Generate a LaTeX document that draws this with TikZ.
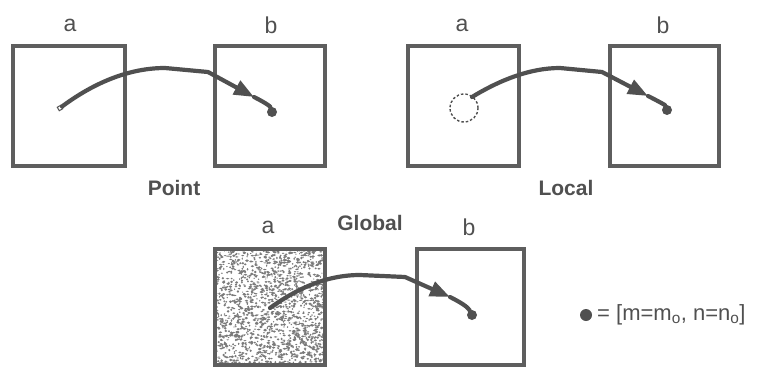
\documentclass[tikz,border=0pt]{standalone}
\usepackage{fontspec}
\setmainfont{Liberation Sans}
\usetikzlibrary{arrows.meta}
\definecolor{ink}{HTML}{505050}
\definecolor{boxc}{HTML}{5E5E5E}
\definecolor{speck}{HTML}{7A7A7A}
\begin{document}
\begin{tikzpicture}[x=1pt,y=-1pt,
  frame/.style={draw=boxc,line width=3.2pt,rectangle,inner sep=0pt},
  lab/.style={text=ink,font=\fontsize{23}{25}\selectfont,inner sep=0pt},
  title/.style={text=ink,font=\fontsize{21}{24}\selectfont\bfseries,inner sep=0pt},
  flow/.style={draw=ink,line width=4.2pt,line cap=round,line join=round},
  head/.style={-{Triangle[length=20pt,width=15pt]}},
  spot/.style={circle,fill=ink,inner sep=0pt,minimum size=10pt}]
\useasboundingbox (0,0) rectangle (766,367);
% ---------- Point ----------
\node[frame,minimum width=112pt,minimum height=120pt] (pa) at (69,106) {};
\node[frame,minimum width=110pt,minimum height=120pt] (pb) at (270,106) {};
\node[lab] (pal) at (70,25) {a};
\node[lab] (pbl) at (271,25) {b};
\node[title] (pt) at (174,188) {Point};
\coordinate (ps) at (60,108);
\node[spot] (pd) at (272,112) {};
\node[rectangle,draw=ink,line width=1pt,inner sep=0pt,minimum size=4pt,rotate=30] (pso) at (ps) {};
\coordinate (pk) at (208,72);
\coordinate (pm) at (254,97);
\draw[flow,head] (pso) .. controls (95,82) and (130,68) .. (165,68) -- (pk) -- (pm);
\draw[flow] (pm) .. controls (264,102) and (270,106) .. (pd);
% ---------- Local ----------
\node[frame,minimum width=111pt,minimum height=120pt] (la) at (463.5,106) {};
\node[frame,minimum width=109pt,minimum height=120pt] (lb) at (664.5,106) {};
\node[lab] (lal) at (462,25) {a};
\node[lab] (lbl) at (663,25) {b};
\node[title] (lt) at (566,188) {Local};
\node[circle,draw=ink,dashed,dash pattern=on 2.5pt off 2pt,line width=1.4pt,minimum size=28pt,inner sep=0pt] (lc) at (464,108) {};
\coordinate (ls) at (472,97);
\node[spot] (ld) at (667,110) {};
\coordinate (lk) at (602,72);
\coordinate (lm) at (648,96);
\draw[flow,head] (ls) .. controls (500,80) and (530,68) .. (560,68) -- (lk) -- (lm);
\draw[flow] (lm) .. controls (658,101) and (665,105) .. (ld);
% ---------- Global ----------
\begin{scope}
\clip (215,249) rectangle (325,365);
\pgfmathsetseed{11}
\foreach \i in {1,...,1700}{
  \fill[speck] ({270+55*rand},{307+58*rand}) ellipse ({0.6+1.4*rnd} and {0.5+0.9*rnd});
}
\end{scope}
\node[frame,minimum width=110pt,minimum height=116pt] (ga) at (270,307) {};
\node[frame,minimum width=107pt,minimum height=116pt] (gb) at (470.5,307) {};
\node[lab] (gal) at (268,227) {a};
\node[lab] (gbl) at (469,227) {b};
\node[title] (gt) at (370,223) {Global};
\coordinate (gs) at (270,308);
\node[spot] (gd) at (472,315) {};
\coordinate (gk) at (405,277);
\coordinate (gm) at (450,297);
\draw[flow,head] (gs) .. controls (295,290) and (325,275) .. (360,275) -- (gk) -- (gm);
\draw[flow] (gm) .. controls (460,302) and (468,307) .. (gd);
% ---------- Legend ----------
\node[spot,minimum size=12pt] (key) at (586,315) {};
\node[anchor=west,text=ink,font=\fontsize{22}{24}\selectfont,inner sep=0pt] (keytext) at (597,315) {= [m=m\textsubscript{o}, n=n\textsubscript{o}]};
\end{tikzpicture}
\end{document}
